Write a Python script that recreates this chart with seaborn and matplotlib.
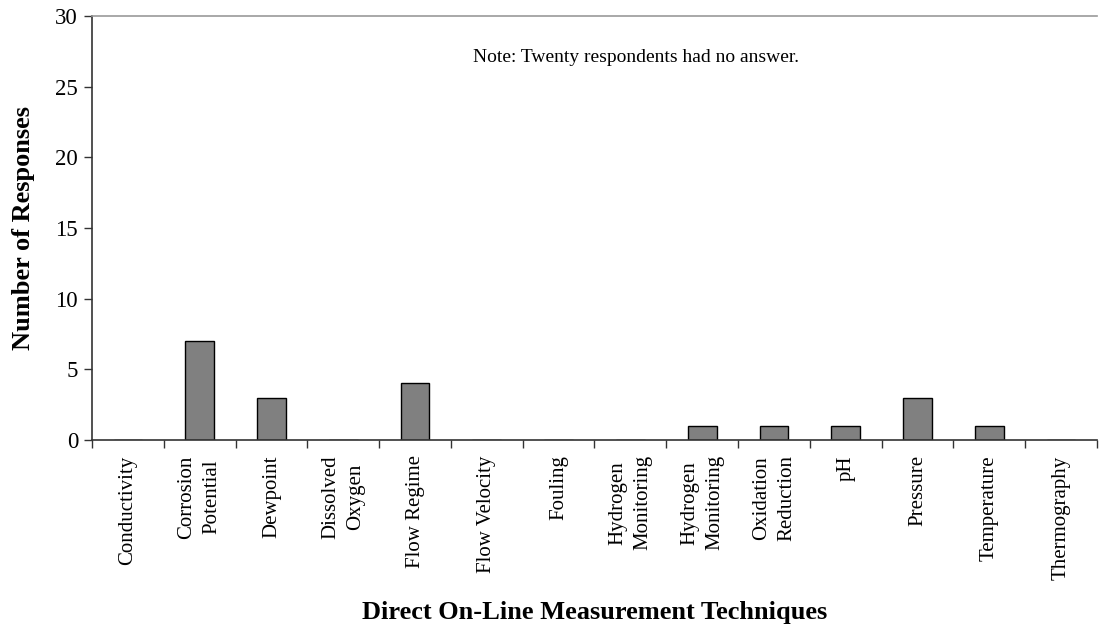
import matplotlib
matplotlib.use("Agg")
import matplotlib.pyplot as plt
import seaborn as sns
import numpy as np
import pandas as pd
from matplotlib.ticker import FixedLocator

categories = ["Conductivity", "Corrosion\nPotential", "Dewpoint", "Dissolved\nOxygen",
              "Flow Regime", "Flow Velocity", "Fouling", "Hydrogen\nMonitoring",
              "Hydrogen\nMonitoring", "Oxidation\nReduction", "pH", "Pressure",
              "Temperature", "Thermography"]
responses = [0, 7, 3, 0, 4, 0, 0, 0, 1, 1, 1, 3, 1, 0]
y_ticks = [0, 5, 10, 15, 20, 25, 30]

sns.set_theme(style="white")
plt.rcParams['font.family'] = ['Liberation Serif', 'DejaVu Serif']
plt.rcParams['text.color'] = 'black'
plt.rcParams['axes.labelcolor'] = 'black'
plt.rcParams['xtick.color'] = 'black'
plt.rcParams['ytick.color'] = 'black'

df = pd.DataFrame({"idx": [str(i) for i in range(len(categories))], "resp": responses})

fig = plt.figure(figsize=(10.99, 6.31), dpi=100)
ax = fig.add_axes([92/1099, 1 - 440/631, 1005/1099, 424/631])

sns.barplot(data=df, x="idx", y="resp", ax=ax, color="#808080", width=0.4,
            edgecolor="black", linewidth=1.0, saturation=1)

n = len(categories)
ax.set_xlim(-0.5, n - 0.5)
ax.set_ylim(0, 30)
ax.set_yticks(y_ticks)
ax.set_yticklabels([str(v) for v in y_ticks], fontsize=16.5)

ax.xaxis.set_major_locator(FixedLocator(np.arange(-0.5, n, 1.0)))
ax.set_xticklabels([""] * (n + 1))
ax.xaxis.set_minor_locator(FixedLocator(np.arange(n)))
ax.set_xticklabels(categories, minor=True, rotation=90, fontsize=15,
                   va="top", ha="center", multialignment="center", linespacing=1.45)
ax.tick_params(axis="x", which="major", direction="out", length=6, width=1, color="#333333", bottom=True)
ax.tick_params(axis="x", which="minor", length=0, pad=11, bottom=True)
ax.tick_params(axis="y", direction="out", length=6, width=1, color="#333333", left=True, pad=4)

for s in ["left", "bottom"]:
    ax.spines[s].set_color("#333333")
    ax.spines[s].set_linewidth(1.2)
ax.spines["top"].set_color("#999999")
ax.spines["top"].set_linewidth(1.2)
ax.spines["right"].set_visible(False)

ax.set_xlabel("Direct On-Line Measurement Techniques", fontsize=19, fontweight="bold", va="center")
ax.xaxis.set_label_coords(0.5, (440 - 612) / 424)
ax.set_ylabel("Number of Responses", fontsize=19, fontweight="bold", va="center")
ax.yaxis.set_label_coords((24 - 92) / 1005, 0.5)

ax.text(0.541, (440 - 57) / 424, "Note: Twenty respondents had no answer.", transform=ax.transAxes,
        ha="center", va="center", fontsize=14)

fig.savefig("out.png", dpi=100)
